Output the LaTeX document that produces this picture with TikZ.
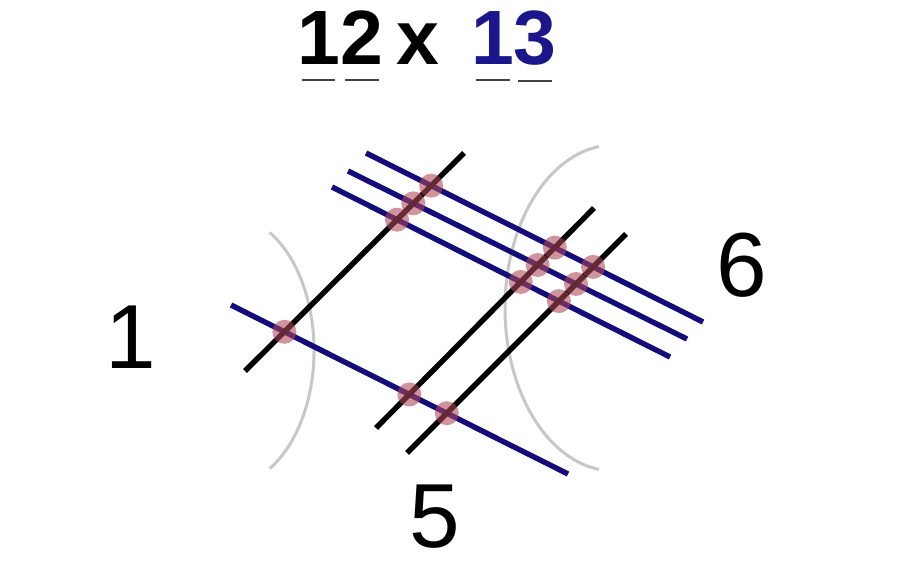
\documentclass[tikz,border=0pt]{standalone}
\usepackage{fontspec}
\setmainfont{Liberation Sans}
\definecolor{navyline}{RGB}{20,12,122}
\definecolor{navytext}{RGB}{28,22,140}
\definecolor{crossfill}{RGB}{175,72,88}
\begin{document}
\begin{tikzpicture}[x=1pt,y=-1pt,
	blackline/.style={line width=5.4pt,black},
	blueline/.style={line width=5.4pt,navyline},
	arcline/.style={line width=3pt,black!22},
	cross/.style={fill=crossfill,fill opacity=0.58},
	digit/.style={inner sep=0pt,anchor=base,font=\fontsize{77}{77}\selectfont\bfseries},
	numlabel/.style={inner sep=0pt,anchor=base,font=\fontsize{91}{91}\selectfont},
	underl/.style={line width=2.2pt,black!75}]
	\fill[white] (0,0) rectangle (900,561);
	\useasboundingbox (0,0) rectangle (900,561);
	% title
	\node (d1) at (318.5,65)	[digit]			{1};
	\node (d2) at (362,65)		[digit]			{2};
	\node (times) at (418,65)	[digit]			{x};
	\node (d3) at (493,65)		[digit,navytext]	{1};
	\node (d4) at (535,65)		[digit,navytext]	{3};
	\foreach \d in {d1,d2,d3,d4}
		\draw[underl] ([xshift=5pt,yshift=-15pt]\d.south west) -- ([xshift=-5pt,yshift=-15pt]\d.south east);
	% arcs
	\draw[arcline] (228,350.5) ++(-61:86 and 135) arc[start angle=-61,end angle=61,x radius=86,y radius=135];
	\draw[arcline] (614,308) ++(98:109 and 163) arc[start angle=98,end angle=262,x radius=109,y radius=163];
	% line ends
	\coordinate (b1a) at (245,371);	\coordinate (b1b) at (464,153);
	\coordinate (b2a) at (376,428);	\coordinate (b2b) at (594,208);
	\coordinate (b3a) at (407,453);	\coordinate (b3b) at (626,234);
	\coordinate (l0a) at (231,305);	\coordinate (l0b) at (568,474);
	\coordinate (t1a) at (366,153);	\coordinate (t1b) at (703,322);
	\coordinate (t2a) at (348,171);	\coordinate (t2b) at (687,339);
	\coordinate (t3a) at (332,187);	\coordinate (t3b) at (670,357);
	\foreach \blu in {l0,t1,t2,t3}
		\draw[blueline] (\blu a) -- (\blu b);
	\foreach \blk in {b1,b2,b3}
		\draw[blackline] (\blk a) -- (\blk b);
	\foreach \blk in {b1,b2,b3}
		\foreach \blu in {l0,t1,t2,t3}
			\fill[cross] (intersection of \blk a--\blk b and \blu a--\blu b) circle (12);
	% counts
	\node (one) at (131,369)	[numlabel]	{1};
	\node (six) at (742,297)	[numlabel]	{6};
	\node (five) at (435,547)	[numlabel]	{5};
\end{tikzpicture}
\end{document}
